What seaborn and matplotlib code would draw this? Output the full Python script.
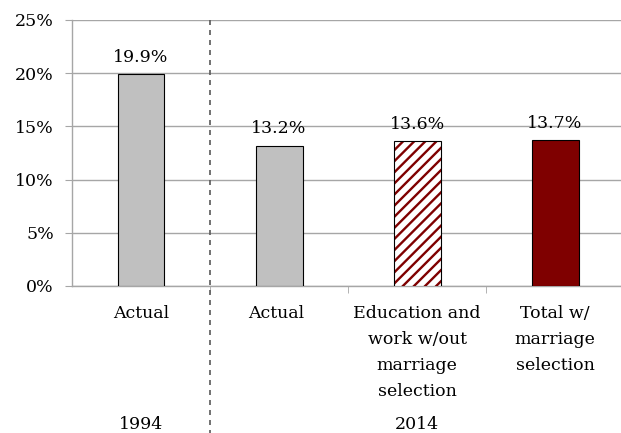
import matplotlib
matplotlib.use("Agg")
import matplotlib.pyplot as plt
import seaborn as sns
import pandas as pd
from matplotlib.ticker import FuncFormatter, FixedLocator

# ---------- Data ----------
categories = ["Actual", "Actual ", "Education and\nwork w/out\nmarriage\nselection",
              "Total w/\nmarriage\nselection"]
values = [19.9, 13.2, 13.6, 13.7]
value_labels = ["19.9%", "13.2%", "13.6%", "13.7%"]
years = ["1994", "2014"]
year_pos = [0, 2]

colors = ["#c0c0c0", "#c0c0c0", "#ffffff", "#7f0000"]
RED = "#7f0000"

df = pd.DataFrame({"cat": categories, "val": values})

sns.set_style("white")
plt.rcParams["font.family"] = ["DejaVu Serif"]
plt.rcParams["text.color"] = "black"
plt.rcParams["xtick.labelcolor"] = "black"
plt.rcParams["ytick.labelcolor"] = "black"
plt.rcParams["hatch.linewidth"] = 1.7
FS = 12.5

fig = plt.figure(figsize=(6.21, 4.33), dpi=100)
ax = fig.add_axes([72 / 621, 147 / 433, 1 - 72 / 621 + 0.005, 266 / 433])

sns.barplot(data=df, x="cat", y="val", hue="cat", palette=colors, legend=False,
            saturation=1, width=0.34, edgecolor="black", linewidth=0.8, ax=ax,
            zorder=3)

# hatched bar: red stripes, black outline on top
hb = ax.patches[2]
hb.set_edgecolor(RED)
hb.set_hatch("///")
hb.set_linewidth(0)
ax.bar(2, values[2], width=0.34, facecolor="none", edgecolor="black",
       linewidth=0.8, zorder=4)

ax.set_xlim(-0.5, 3.5)
ax.set_ylim(0, 25)
ax.yaxis.set_major_locator(FixedLocator([0, 5, 10, 15, 20, 25]))
ax.yaxis.set_major_formatter(FuncFormatter(lambda v, p: f"{v:.0f}%"))
ax.grid(axis="y", color="#a6a6a6", linewidth=1, zorder=0)
ax.set_axisbelow(True)

for s in ["top", "right"]:
    ax.spines[s].set_visible(False)
for s in ["left", "bottom"]:
    ax.spines[s].set_color("#a6a6a6")
    ax.spines[s].set_linewidth(1)

ax.tick_params(axis="y", left=True, length=5, color="#a6a6a6", labelsize=FS,
               labelcolor="black", pad=8)
ax.tick_params(axis="x", which="major", length=0, labelsize=FS,
               labelcolor="black", pad=14)
ax.set_xticks([0.5, 1.5, 2.5, 3.5], minor=True)
ax.tick_params(axis="x", which="minor", bottom=True, length=5, color="#a6a6a6")
ax.set_xlabel("")
ax.set_ylabel("")

for lbl in ax.get_xticklabels():
    lbl.set_linespacing(1.68)
    lbl.set_va("top")

for i, (v, t) in enumerate(zip(values, value_labels)):
    ax.text(i, v + 0.8, t, ha="center", va="bottom", fontsize=FS, color="black")

trans = ax.get_xaxis_transform()
for y, p in zip(years, year_pos):
    ax.text(p, -0.52, y, ha="center", va="center", fontsize=FS, color="black",
            transform=trans)

ax.plot([0.5, 0.5], [1.0, -0.56], transform=trans, color="#595959",
        linestyle=(0, (3, 3)), linewidth=1.2, clip_on=False, zorder=5)

fig.savefig("out.png", dpi=100)
